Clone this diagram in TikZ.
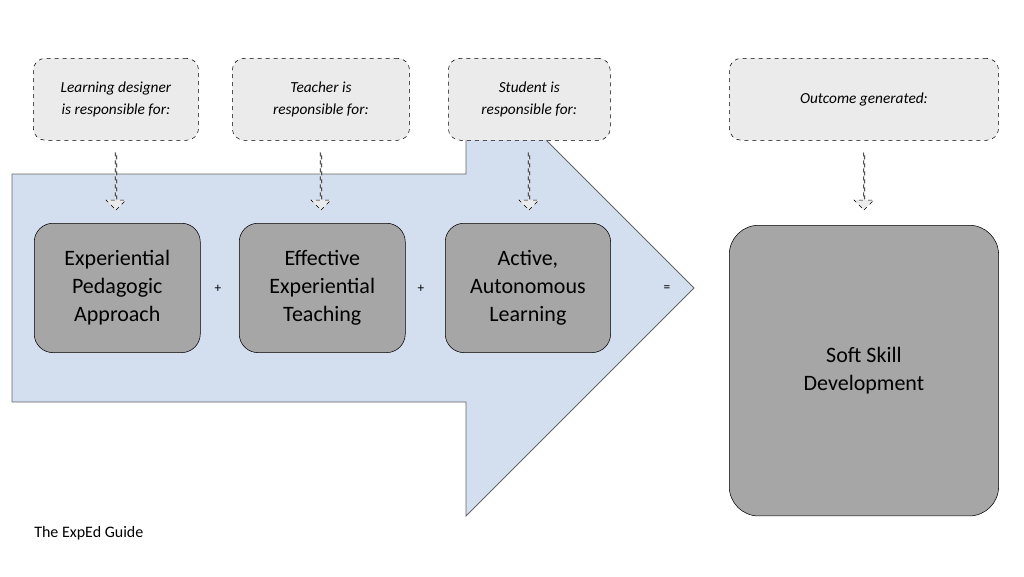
\documentclass[tikz,border=0pt]{standalone}
\usepackage{fontspec}
\setmainfont{Carlito}
\usetikzlibrary{shapes.arrows}
\definecolor{bigblue}{HTML}{D3DEEF}
\definecolor{lgray}{HTML}{EBEBEB}
\definecolor{dgray}{HTML}{A6A6A6}
\begin{document}
\begin{tikzpicture}[x=0.75pt,y=-0.75pt,
  resp/.style={draw,dashed,fill=lgray,rounded corners=9pt,align=center,font=\itshape\fontsize{11.5}{17}\selectfont,anchor=north west,inner sep=0pt},
  main/.style={draw,fill=dgray,rounded corners=14pt,align=center,font=\fontsize{16.5}{21}\selectfont,anchor=north west,inner sep=0pt},
  down/.style={single arrow,draw,dashed,fill=lgray,rotate=-90,minimum height=43pt,minimum width=15pt,single arrow head extend=2.5pt,inner sep=0pt,shape border uses incircle=false},
  op/.style={font=\fontsize{10}{12}\selectfont}]
\useasboundingbox (0,0) rectangle (1024,576);
\fill[white] (0,0) rectangle (1024,576);
\draw[fill=bigblue,draw=gray!80!black,line width=0.6pt] (12,174) -- (466,174) -- (466,60) -- (694,288) -- (466,516) -- (466,402) -- (12,402) -- cycle;
\node[resp,minimum width=124pt,minimum height=61.5pt] (r1) at (33,58) {Learning designer\\is responsible for:};
\node[resp,minimum width=133pt,minimum height=61.5pt] (r2) at (232,58) {Teacher is\\responsible for:};
\node[resp,minimum width=121.5pt,minimum height=61.5pt] (r3) at (448,58) {Student is\\responsible for:};
\node[resp,minimum width=202pt,minimum height=61.5pt] (r4) at (729,58) {Outcome generated:};
\node[main,minimum width=124.5pt,minimum height=97pt] (m1) at (34,223) {Experiential\\Pedagogic\\Approach};
\node[main,minimum width=124.5pt,minimum height=97pt] (m2) at (239,223) {Effective\\Experiential\\Teaching};
\node[main,minimum width=124pt,minimum height=97pt] (m3) at (445,223) {Active,\\Autonomous\\Learning};
\node[main,minimum width=202pt,minimum height=218pt,rounded corners=22pt] (m4) at (729,225) {Soft Skill\\Development};
\node[down] (a1) at (116,181) {};
\node[down] (a2) at (321,181) {};
\node[down] (a3) at (529,181) {};
\node[down] (a4) at (864,181) {};
\node[op] (p1) at (218,289) {+};
\node[op] (p2) at (421,289) {+};
\node[op] (p3) at (667,289) {=};
\node[anchor=west,font=\fontsize{12}{14}\selectfont,inner sep=0pt] (ft) at (34,533) {The ExpEd Guide};
\end{tikzpicture}
\end{document}
